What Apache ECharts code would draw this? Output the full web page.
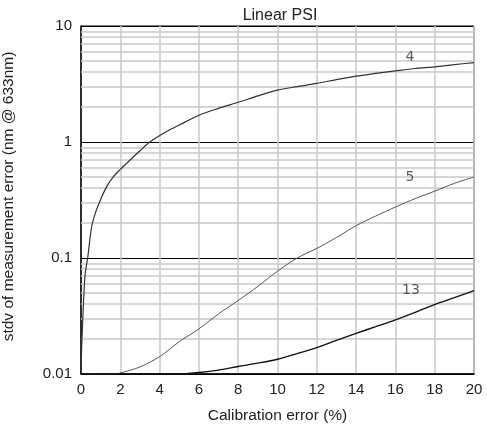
<!DOCTYPE html>
<html>
<head>
<meta charset="utf-8">
<script src="https://cdn.jsdelivr.net/npm/echarts@6/dist/echarts.min.js"></script>
<style>
  html, body { margin: 0; padding: 0; background: #fff; }
  #chart { width: 487px; height: 431px; }
</style>
</head>
<body>
<div id="chart"></div>
<script>
// curve values, [calibration error %, stdv nm]
const curve4 = [
  [0, 0.01], [0.05, 0.02], [0.2, 0.07], [0.34, 0.1], [0.54, 0.186], [0.75, 0.25],
  [1, 0.32], [1.3, 0.41], [1.64, 0.5], [2, 0.58], [2.5, 0.7], [3, 0.84], [3.5, 1.0],
  [4.36, 1.23], [5, 1.4], [6, 1.7], [7, 1.95], [8, 2.2], [9, 2.5], [10, 2.8],
  [11, 3.0], [12, 3.2], [13, 3.45], [14, 3.7], [15, 3.9], [16, 4.1], [17, 4.3],
  [18, 4.45], [19, 4.65], [20, 4.83]
];
const curve5 = [
  [0, 0.01], [1.7, 0.01], [2, 0.0102], [3, 0.0115], [4, 0.0141], [5, 0.019],
  [6, 0.0245], [7, 0.033], [8, 0.043], [9, 0.057], [10, 0.077], [11, 0.1],
  [12, 0.121], [13, 0.15], [14, 0.19], [15, 0.23], [16, 0.275], [17, 0.325],
  [18, 0.377], [19, 0.44], [20, 0.5]
];
const curve13 = [
  [0, 0.01], [5, 0.01], [6, 0.0103], [7, 0.0108], [8, 0.0116], [9, 0.0124],
  [10, 0.0134], [11, 0.015], [12, 0.0169], [13, 0.0195], [14, 0.0224], [15, 0.0256],
  [16, 0.0293], [17, 0.034], [18, 0.0397], [19, 0.0455], [20, 0.0523]
];
const curveLabels = [[16.74, 5.41, '4'], [16.74, 0.5, '5'], [16.79, 0.053, '13']];

// minor log grid lines 2..9 in each decade
const minorLines = [];
[0.01, 0.1, 1].forEach(d => {
  for (let k = 2; k <= 9; k++) minorLines.push({ yAxis: +(k * d).toPrecision(3) });
});

const font = 'Liberation Sans, Arial, sans-serif';
const chart = echarts.init(document.getElementById('chart'));

chart.setOption({
  animation: false,
  title: {
    text: 'Linear PSI',
    left: 275,
    top: 3,
    textAlign: 'center',
    textStyle: { fontFamily: font, fontSize: 16, fontWeight: 'normal', color: '#222' }
  },
  grid: {
    left: 81, right: 13, top: 26, bottom: 57,
    outerBoundsMode: 'none',
    containLabel: false,
    show: true, borderColor: '#000', borderWidth: 1
  },
  xAxis: {
    type: 'value',
    min: 0, max: 20, interval: 2,
    name: 'Calibration error (%)',
    nameLocation: 'middle',
    nameGap: 34,
    nameTextStyle: { fontFamily: font, fontSize: 15.5, color: '#222' },
    axisLine: { lineStyle: { color: '#000', width: 1.5 } },
    axisTick: { show: false },
    axisLabel: { fontFamily: font, fontSize: 15, color: '#222', margin: 8 },
    splitLine: { lineStyle: { color: '#c8c8c8', width: 1.5 } }
  },
  yAxis: {
    type: 'log',
    logBase: 10,
    min: 0.01, max: 10,
    name: 'stdv of measurement error (nm @ 633nm)',
    nameLocation: 'middle',
    nameGap: 64,
    nameTextStyle: { fontFamily: font, fontSize: 15.5, color: '#222', padding: [0, 0, 0, 7] },
    axisLine: { show: true, lineStyle: { color: '#000', width: 1.5 } },
    axisTick: { show: false },
    axisLabel: { fontFamily: font, fontSize: 15, color: '#222', margin: 9 },
    splitLine: { lineStyle: { color: '#000', width: 1.2 } }
  },
  series: [
    {
      type: 'line',
      data: [],
      z: 1,
      silent: true,
      markLine: {
        z: 1,
        silent: true,
        symbol: 'none',
        label: { show: false },
        lineStyle: { color: '#c8c8c8', width: 1.5, type: 'solid' },
        data: minorLines
      }
    },
    {
      name: '4', type: 'line', data: curve4, showSymbol: false,
      smooth: 0.3, z: 3,
      lineStyle: { color: '#333', width: 1.2 }
    },
    {
      name: '5', type: 'line', data: curve5, showSymbol: false,
      smooth: 0.3, z: 3,
      lineStyle: { color: '#555', width: 1 }
    },
    {
      name: '13', type: 'line', data: curve13, showSymbol: false,
      smooth: 0.3, z: 3,
      lineStyle: { color: '#111', width: 1.4 }
    },
    {
      type: 'scatter', data: curveLabels, symbolSize: 0, z: 4, silent: true,
      label: {
        show: true, position: 'inside',
        formatter: p => p.value[2],
        fontFamily: 'DejaVu Sans, sans-serif', fontSize: 14, color: '#333'
      }
    }
  ]
});
</script>
</body>
</html>
